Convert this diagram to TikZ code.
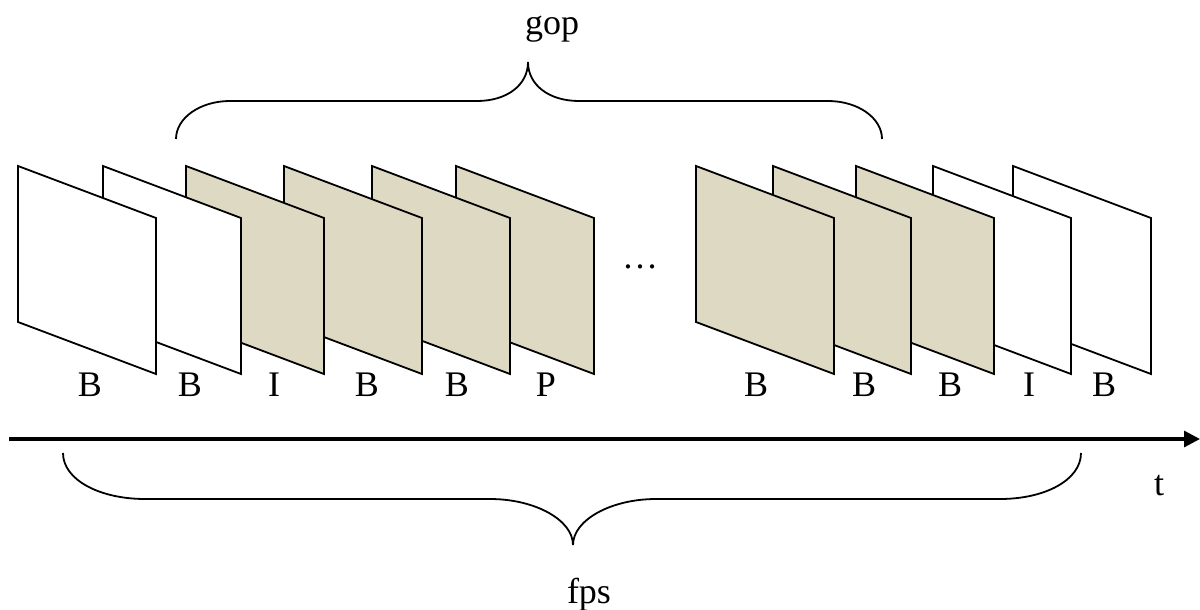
\documentclass[tikz,border=0pt]{standalone}
\usepackage{fontspec}
\setmainfont{Liberation Serif}
\usetikzlibrary{arrows.meta}
\definecolor{frametan}{RGB}{221,217,195}
\tikzset{
  framebox/.style={draw=black, line width=1.8pt, line join=miter},
  lbl/.style={anchor=base, inner sep=0pt, font=\fontsize{36}{42}\selectfont},
  bracepath/.style={draw=black, line width=1.8pt},
  axis/.style={draw=black, line width=3.2pt, -{Triangle[length=16pt,width=16pt]}}
}
\begin{document}
\begin{tikzpicture}[x=1pt,y=-1pt]
\useasboundingbox (0,0) rectangle (1200,610);
% frames, drawn right to left so left ones are in front
\foreach \x/\c in {1013/white,933/white,856/frametan,773/frametan,696/frametan,456/frametan,372/frametan,284/frametan,186/frametan,103/white,18/white}{
  \filldraw[framebox, fill=\c] (\x,166) -- ++(138,52) -- ++(0,156) -- ++(-138,-52) -- cycle;
}
% labels
\node[lbl] (l1) at (90,396) {B};
\node[lbl] (l2) at (190,396) {B};
\node[lbl] (l3) at (274,396) {I};
\node[lbl] (l4) at (367,396) {B};
\node[lbl] (l5) at (457,396) {B};
\node[lbl] (l6) at (546,396) {P};
\node[lbl] (l7) at (756,396) {B};
\node[lbl] (l8) at (864,396) {B};
\node[lbl] (l9) at (950,396) {B};
\node[lbl] (l10) at (1029,396) {I};
\node[lbl] (l11) at (1104,396) {B};
\node[lbl] (dots) at (640,268) {…};
% time axis
\coordinate (ax0) at (9,439);
\coordinate (ax1) at (1200,439);
\draw[axis] (ax0) -- (ax1);
\node[lbl] (t) at (1159,495) {t};
% top brace (gop)
\draw[bracepath] (176,139) .. controls (176,118) and (200,101) .. (230,101) -- (477,101)
  .. controls (507,101) and (528,85) .. (528,62)
  .. controls (528,85) and (549,101) .. (579,101) -- (828,101)
  .. controls (858,101) and (882,118) .. (882,139);
\node[lbl] (gop) at (552,35) {gop};
% bottom brace (fps)
\draw[bracepath] (63,453) .. controls (63,480) and (100,499) .. (145,499) -- (490,499)
  .. controls (535,499) and (573,520) .. (573,545)
  .. controls (573,520) and (611,499) .. (656,499) -- (1000,499)
  .. controls (1045,499) and (1081,480) .. (1081,453);
\node[lbl] (fps) at (589,603) {fps};
\end{tikzpicture}
\end{document}
